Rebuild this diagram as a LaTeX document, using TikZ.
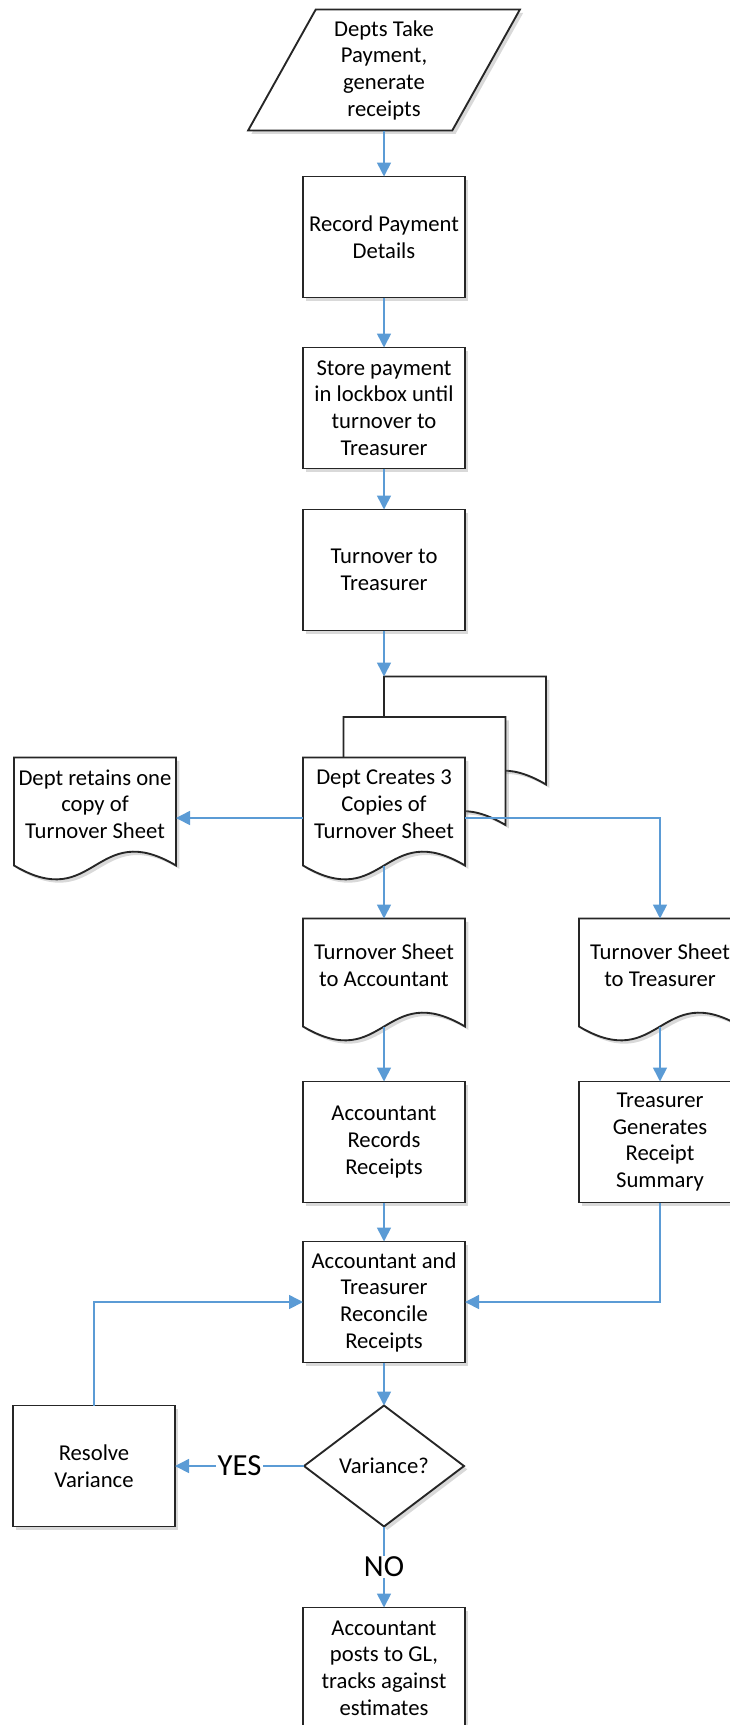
\documentclass[tikz,border=0pt]{standalone}
\usepackage{fontspec}
\setmainfont{Carlito}
\usetikzlibrary{shapes.geometric, arrows.meta, positioning, shadows, calc, backgrounds}

\definecolor{flowblue}{RGB}{91,155,213}

\begin{document}
\begin{tikzpicture}[
        node distance=30pt,
        font=\fontsize{17}{20}\selectfont,
        every node/.style={outer sep=0pt},
        % Styles
        process/.style={
            rectangle,
            draw=black!85,
            line width=1.4pt,
            fill=white,
            align=center,
            inner sep=2pt,
            minimum width=121.5pt,
            minimum height=90.75pt,
            drop shadow={shadow xshift=2.5pt, shadow yshift=-2.5pt, opacity=0.3}
          },
        payin/.style={
            trapezium,
            trapezium left angle=63.6,
            trapezium right angle=116.4,
            trapezium stretches=true,
            draw=black!85,
            line width=1.4pt,
            fill=white,
            align=center,
            inner sep=2pt,
            minimum width=204pt,
            minimum height=90.75pt,
            drop shadow={shadow xshift=2.5pt, shadow yshift=-2.5pt, opacity=0.3}
          },
        decision/.style={
            diamond,
            draw=black!85,
            line width=1.4pt,
            fill=white,
            inner sep=0pt,
            minimum width=120pt,
            minimum height=90.75pt,
            drop shadow={shadow xshift=2.5pt, shadow yshift=-2.5pt, opacity=0.3}
          },
        doc/.style={
            rectangle,
            align=center,
            inner sep=2pt,
            minimum width=121.5pt,
            minimum height=90.75pt,
            text depth=21pt
          },
        docline/.style={
            draw=black!85,
            line width=1.4pt,
            fill=white,
            drop shadow={shadow xshift=2.5pt, shadow yshift=-2.5pt, opacity=0.3}
          },
        arrow/.style={
            draw=flowblue,
            line width=1.2pt,
            -{Triangle[width=10.5pt, length=10.5pt]},
            flowblue
          },
        answer/.style={
            fill=white,
            inner sep=1pt,
            text=black,
            font=\fontsize{23}{26}\selectfont
          }
      ]
      \useasboundingbox (0,0) rectangle (547.5pt,-1293.75pt);

      % Nodes
      % Main column
      \node[payin] (pay) at (288pt,-52.5pt) {Depts Take\\Payment,\\generate\\receipts};
      \node[process, below=34.5pt of pay] (record) {Record Payment\\Details};
      \node[process, below=37.5pt of record] (store) {Store payment\\in lockbox until\\turnover to\\Treasurer};
      \node[process, below=30.75pt of store] (turn) {Turnover to\\Treasurer};

      % Turnover sheet copies
      \node[doc, below=95.25pt of turn] (front) {Dept Creates 3\\Copies of\\Turnover Sheet};
      \node[doc] (mid) at ($(front.center)+(30.375pt,30.375pt)$) {};
      \node[doc] (back) at ($(front.center)+(60.75pt,60.75pt)$) {};
      \node[doc, left=95.25pt of front] (keep) {Dept retains one\\copy of\\Turnover Sheet};
      \node[doc, below=30pt of front] (toacc) {Turnover Sheet\\to Accountant};
      \node[doc, right=85.5pt of toacc] (totreas) {Turnover Sheet\\to Treasurer};

      % Records and reconciliation
      \node[process, below=31.5pt of toacc] (accrec) {Accountant\\Records\\Receipts};
      \node[process, below=31.5pt of totreas] (summary) {Treasurer\\Generates\\Receipt\\Summary};
      \node[process, below=29.25pt of accrec] (recon) {Accountant and\\Treasurer\\Reconcile\\Receipts};
      \node[decision, below=32.25pt of recon] (variance) {Variance?};
      \node[process, left=96.75pt of variance] (resolve) {Resolve\\Variance};
      \node[process, below=60.75pt of variance] (post) {Accountant\\posts to GL,\\tracks against\\estimates};

      % Document outlines
      \begin{scope}[on background layer]
        \foreach \d in {back, mid, front, keep, toacc, totreas}
          \draw[docline] (\d.north west) -- (\d.north east)
            -- ($(\d.south east)+(0,9.75pt)$)
            .. controls ($(\d.south)+(0,45.75pt)$) and ($(\d.south)+(0,-26.25pt)$)
            .. ($(\d.south west)+(0,9.75pt)$) -- cycle;
      \end{scope}

      % Arrows
      \draw[arrow] (pay.south) -- (record.north);
      \draw[arrow] (record.south) -- (store.north);
      \draw[arrow] (store.south) -- (turn.north);
      \draw[arrow] (turn.south) -- (back.north west);
      \draw[arrow] (front.west) -- (keep.east);
      \draw[arrow] (front.east) -| (totreas.north);
      \draw[arrow] ($(front.south)+(0,9.75pt)$) -- (toacc.north);
      \draw[arrow] ($(toacc.south)+(0,9.75pt)$) -- (accrec.north);
      \draw[arrow] ($(totreas.south)+(0,9.75pt)$) -- (summary.north);
      \draw[arrow] (accrec.south) -- (recon.north);
      \draw[arrow] (summary.south) |- (recon.east);
      \draw[arrow] (resolve.north) |- (recon.west);
      \draw[arrow] (recon.south) -- (variance.north);

      % Decision outcomes
      \draw[arrow] (variance.west) -- node[answer] {YES} (resolve.east);
      \draw[arrow] (variance.south) -- node[answer] {NO} (post.north);

    \end{tikzpicture}
\end{document}
